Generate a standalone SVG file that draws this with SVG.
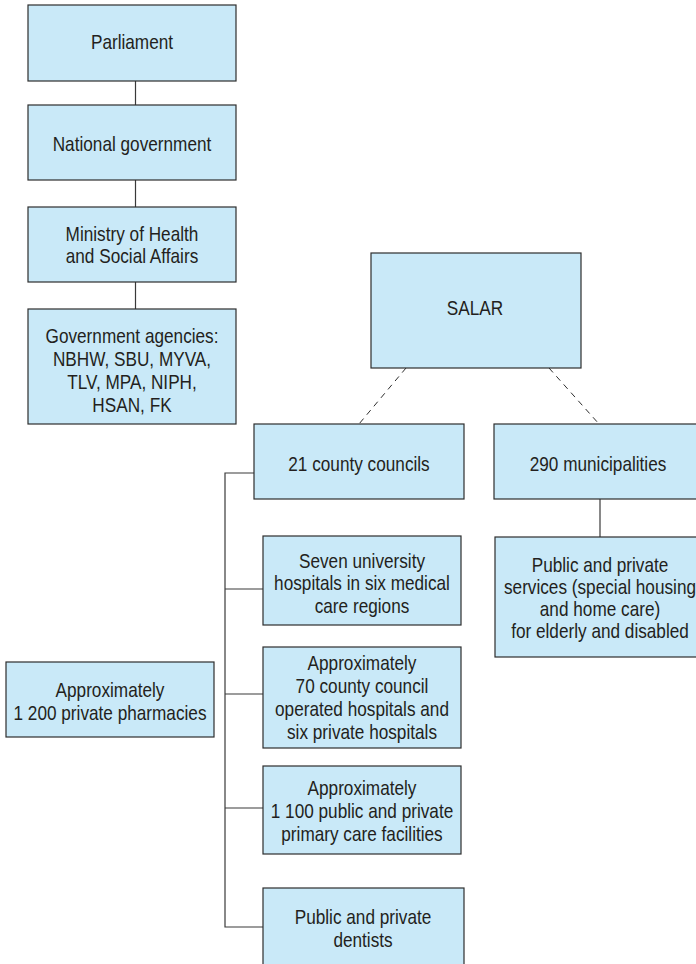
<svg xmlns="http://www.w3.org/2000/svg" width="696" height="964" viewBox="0 0 696 964">
<style>
.box{fill:#c9e9f8;stroke:#2e2e2e;stroke-width:1.2}
.t{font-family:"Liberation Sans",Arial,sans-serif;font-size:20px;fill:#231f20;text-anchor:middle}
.ln{stroke:#3a3a3a;stroke-width:1.2;fill:none}
.dash{stroke:#2e2e2e;stroke-width:1;fill:none;stroke-dasharray:6,5}
</style>
<rect width="696" height="964" fill="#fff"/>
<g id="connectors">
<line class="ln" x1="135.5" y1="81" x2="135.5" y2="105"/>
<line class="ln" x1="135.5" y1="180" x2="135.5" y2="207"/>
<line class="ln" x1="135.5" y1="282" x2="135.5" y2="309"/>
<line class="dash" x1="406" y1="368" x2="359" y2="424"/>
<line class="dash" x1="549" y1="368" x2="599" y2="424"/>
<line class="ln" x1="600" y1="499" x2="600" y2="537"/>
<polyline class="ln" points="254,473 225,473 225,927 263,927"/>
<line class="ln" x1="225" y1="589" x2="263" y2="589"/>
<line class="ln" x1="225" y1="694" x2="263" y2="694"/>
<line class="ln" x1="225" y1="808" x2="263" y2="808"/>
</g>
<g id="parliament"><rect class="box" x="28" y="5" width="208" height="76"/><g transform="translate(132,0) scale(0.86,1)"><text class="t" x="0" y="49">Parliament</text></g></g>
<g id="national-government"><rect class="box" x="28" y="105" width="208" height="75"/><g transform="translate(132,0) scale(0.86,1)"><text class="t" x="0" y="151">National government</text></g></g>
<g id="ministry"><rect class="box" x="28" y="207" width="208" height="75"/><g transform="translate(132,0) scale(0.86,1)"><text class="t" x="0" y="241">Ministry of Health</text><text class="t" x="0" y="263">and Social Affairs</text></g></g>
<g id="agencies"><rect class="box" x="28" y="309" width="208" height="115"/><g transform="translate(132,0) scale(0.86,1)"><text class="t" x="0" y="343">Government agencies:</text><text class="t" x="0" y="366">NBHW, SBU, MYVA,</text><text class="t" x="0" y="389">TLV, MPA, NIPH,</text><text class="t" x="0" y="412">HSAN, FK</text></g></g>
<g id="salar"><rect class="box" x="371" y="253" width="210" height="115"/><g transform="translate(475,0) scale(0.86,1)"><text class="t" x="0" y="315">SALAR</text></g></g>
<g id="county-councils"><rect class="box" x="254" y="424" width="210" height="75"/><g transform="translate(359,0) scale(0.86,1)"><text class="t" x="0" y="471">21 county councils</text></g></g>
<g id="municipalities"><rect class="box" x="494" y="424" width="210" height="75"/><g transform="translate(598,0) scale(0.86,1)"><text class="t" x="0" y="471">290 municipalities</text></g></g>
<g id="elderly-services"><rect class="box" x="495" y="537" width="210" height="120"/><g transform="translate(600,0) scale(0.86,1)"><text class="t" x="0" y="572">Public and private</text><text class="t" x="0" y="594">services (special housing</text><text class="t" x="0" y="616">and home care)</text><text class="t" x="0" y="638">for elderly and disabled</text></g></g>
<g id="university-hospitals"><rect class="box" x="263" y="536" width="198" height="89"/><g transform="translate(362,0) scale(0.86,1)"><text class="t" x="0" y="568">Seven university</text><text class="t" x="0" y="590">hospitals in six medical</text><text class="t" x="0" y="613">care regions</text></g></g>
<g id="county-hospitals"><rect class="box" x="263" y="647" width="198" height="101"/><g transform="translate(362,0) scale(0.86,1)"><text class="t" x="0" y="670">Approximately</text><text class="t" x="0" y="693">70 county council</text><text class="t" x="0" y="716">operated hospitals and</text><text class="t" x="0" y="739">six private hospitals</text></g></g>
<g id="pharmacies"><rect class="box" x="6" y="662" width="208" height="75"/><g transform="translate(110,0) scale(0.86,1)"><text class="t" x="0" y="697">Approximately</text><text class="t" x="0" y="720">1 200 private pharmacies</text></g></g>
<g id="primary-care"><rect class="box" x="263" y="766" width="198" height="88"/><g transform="translate(362,0) scale(0.86,1)"><text class="t" x="0" y="795">Approximately</text><text class="t" x="0" y="818">1 100 public and private</text><text class="t" x="0" y="841">primary care facilities</text></g></g>
<g id="dentists"><rect class="box" x="263" y="888" width="201" height="80"/><g transform="translate(363,0) scale(0.86,1)"><text class="t" x="0" y="924">Public and private</text><text class="t" x="0" y="947">dentists</text></g></g>
</svg>
